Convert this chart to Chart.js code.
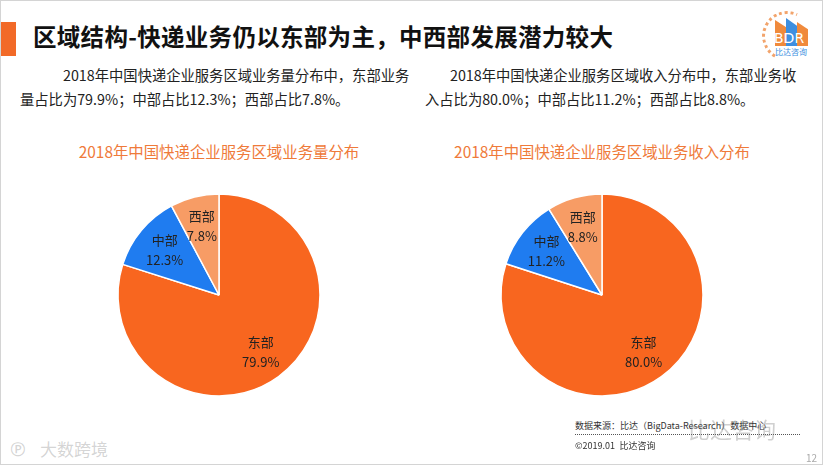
<!DOCTYPE html>
<html>
<head>
<meta charset="utf-8">
<script src="https://cdn.jsdelivr.net/npm/chart.js@4/dist/chart.umd.min.js"></script>
<style>
  html, body { margin: 0; padding: 0; }
  body {
    width: 823px; height: 465px; position: relative; overflow: hidden;
    background: #fff; font-family: "Noto Sans CJK SC", "Noto Sans", sans-serif; color: #222;
  }
  .frame { position: absolute; left: 0; top: 0; width: 821px; height: 463px; border: 1px solid #d4d4d4; }
  .bar { position: absolute; left: 1px; top: 22px; width: 15px; height: 34px; background: #f26a28; }
  .title { position: absolute; left: 33px; top: 19px; font-size: 23.5px; font-weight: bold; color: #111; letter-spacing: 0.3px; white-space: nowrap; }
  .para { position: absolute; font-size: 14.3px; line-height: 24px; white-space: nowrap; color: #222; }
  .sub { position: absolute; top: 140px; width: 400px; text-align: center; font-size: 15.4px; color: #ef7a3a; white-space: nowrap; }
  canvas { position: absolute; }
  .foot { position: absolute; font-size: 9px; color: #333; white-space: nowrap; }
  .wm { position: absolute; color: rgba(120,120,120,0.35); white-space: nowrap; }
  .blk { position: absolute; }
</style>
</head>
<body>
<div class="frame"></div>
<div class="bar"></div>
<div class="title">区域结构-快递业务仍以东部为主，中西部发展潜力较大</div>

<div class="para" style="left:63px; top:63px;">2018年中国快递企业服务区域业务量分布中，东部业务</div>
<div class="para" style="left:20px; top:87px;">量占比为79.9%；中部占比12.3%；西部占比7.8%。</div>
<div class="para" style="left:450px; top:63px;">2018年中国快递企业服务区域收入分布中，东部业务收</div>
<div class="para" style="left:425px; top:87px;">入占比为80.0%；中部占比11.2%；西部占比8.8%。</div>

<div class="sub" style="left:19px;">2018年中国快递企业服务区域业务量分布</div>
<div class="sub" style="left:402px;">2018年中国快递企业服务区域业务收入分布</div>

<canvas id="pieVolume" width="240" height="240" style="left:99px; top:175px;"></canvas>
<canvas id="pieRevenue" width="240" height="240" style="left:482px; top:175px;"></canvas>

<!-- BDR logo -->
<div style="position:absolute; left:760px; top:6px; width:55px; height:55px;">
  <div class="blk" style="left:2px; top:5px; width:44px; height:44px; border-radius:50%; border:3px dotted #f2a46c; border-right-color:transparent; border-bottom-color:transparent; transform:rotate(-20deg);"></div>
  <div class="blk" style="left:15px; top:14px; width:12px; height:26px; background:#f08a3c; clip-path:polygon(0 0,100% 30%,100% 100%,0 100%);"></div>
  <div class="blk" style="left:26px; top:12px; width:12px; height:28px; background:#3d8fe0; clip-path:polygon(0 0,100% 30%,100% 100%,0 100%);"></div>
  <div class="blk" style="left:37px; top:16px; width:11px; height:24px; background:#f08a3c; clip-path:polygon(0 0,100% 30%,100% 100%,0 100%);"></div>
  <div class="blk" style="left:14px; top:24px; font-size:14px; color:#fff; font-family:'DejaVu Sans';">BDR</div>
  <div class="blk" style="left:15px; top:41px; font-size:8px; line-height:10px; color:#3d8fe0;">比达咨询</div>
</div>

<div class="foot" style="left:575px; top:419px;">数据来源：比达（BigData-Research）数据中心</div>
<div style="position:absolute; left:575px; top:434px; width:225px; border-top:1px dotted #555;"></div>
<div class="foot" style="left:575px; top:439px;">©2019.01&ensp;比达咨询</div>
<div class="foot" style="left:806px; top:450px; color:#aaa; font-size:10px;">12</div>
<div class="wm" style="left:688px; top:412px; font-size:22px;">比达咨询</div>
<div class="wm" style="left:10px; top:434px; font-size:19px; color:rgba(160,160,160,0.45);">℗</div>
<div class="wm" style="left:40px; top:436px; font-size:17px; color:rgba(160,160,160,0.45);">大数跨境</div>

<script>
const regions = ['东部', '中部', '西部'];
const volumeShare = [79.9, 12.3, 7.8];
const revenueShare = [80.0, 11.2, 8.8];
const sliceColors = ['#f8661f', '#1f7cf0', '#f79c65'];

// draws "name / value%" inside each slice
const insideLabels = {
  id: 'insideLabels',
  afterDatasetsDraw(chart) {
    const ctx = chart.ctx;
    const meta = chart.getDatasetMeta(0);
    const values = chart.data.datasets[0].data;
    ctx.save();
    ctx.fillStyle = '#222';
    ctx.textAlign = 'center';
    ctx.textBaseline = 'middle';
    ctx.font = '13px "Noto Sans CJK SC", sans-serif';
    meta.data.forEach(function (arc, i) {
      const p = arc.getProps(['x', 'y', 'startAngle', 'endAngle', 'outerRadius'], true);
      const mid = (p.startAngle + p.endAngle) / 2;
      const r = p.outerRadius * 0.7;
      const x = p.x + Math.cos(mid) * r;
      const y = p.y + Math.sin(mid) * r;
      ctx.fillText(chart.data.labels[i], x, y - 10);
      ctx.fillText(values[i].toFixed(1) + '%', x, y + 10);
    });
    ctx.restore();
  }
};

function makePie(id, values) {
  return new Chart(document.getElementById(id), {
    type: 'pie',
    data: {
      labels: regions,
      datasets: [{
        data: values,
        backgroundColor: sliceColors,
        borderColor: '#fff',
        borderWidth: 1.5
      }]
    },
    options: {
      responsive: false,
      animation: false,
      radius: 101,
      plugins: { legend: { display: false }, tooltip: { enabled: false } }
    },
    plugins: [insideLabels]
  });
}

makePie('pieVolume', volumeShare);
makePie('pieRevenue', revenueShare);
</script>
</body>
</html>
